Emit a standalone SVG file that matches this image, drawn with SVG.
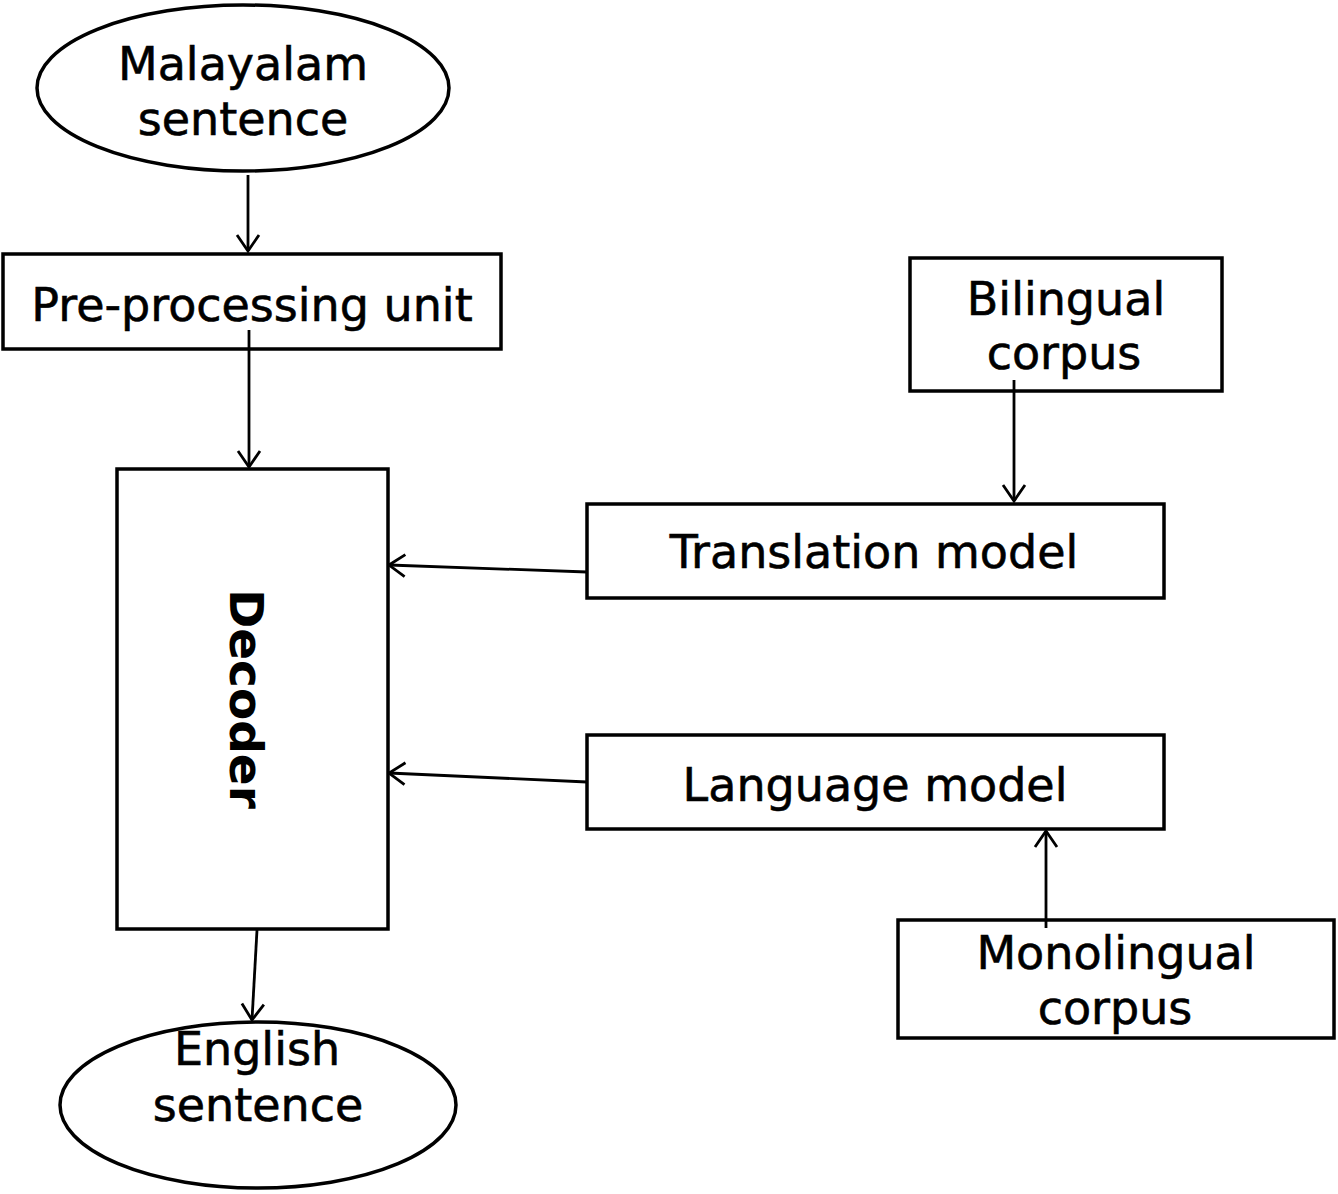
<svg xmlns="http://www.w3.org/2000/svg" width="1338" height="1194" viewBox="0 0 1338 1194">
<style>
.shape{fill:#fff;stroke:#000;stroke-width:3.5}
.t{font-family:"DejaVu Sans","Liberation Sans",sans-serif;font-size:46px;fill:#000;stroke:#000;stroke-width:0.6;text-anchor:middle}
.tb{font-family:"DejaVu Sans","Liberation Sans",sans-serif;font-size:47px;font-weight:bold;fill:#000;text-anchor:middle}
.c{fill:none;stroke:#000;stroke-width:2.8;marker-end:url(#arr)}
</style>
<defs>
<marker id="arr" markerUnits="userSpaceOnUse" markerWidth="20" markerHeight="26" viewBox="0 0 20 26" refX="18" refY="13" orient="auto">
<path d="M2,2 L18,13 L2,24" fill="none" stroke="#000" stroke-width="2.8"/>
</marker>
</defs>
<rect width="1338" height="1194" fill="#fff"/>
<g id="malayalam">
<ellipse class="shape" cx="243" cy="88" rx="206" ry="83"/>
<text class="t" x="243" y="80">Malayalam</text>
<text class="t" x="243" y="135">sentence</text>
</g>
<g id="preprocessing">
<rect class="shape" x="3" y="254" width="498" height="95"/>
<text class="t" x="252" y="321">Pre-processing unit</text>
</g>
<g id="decoder">
<rect class="shape" x="117" y="469" width="271" height="460"/>
<text class="tb" transform="translate(230,699) rotate(90)" x="0" y="0">Decoder</text>
</g>
<g id="english">
<ellipse class="shape" cx="258" cy="1105" rx="198" ry="83"/>
<text class="t" x="257" y="1065">English</text>
<text class="t" x="258" y="1121">sentence</text>
</g>
<g id="bilingual">
<rect class="shape" x="910" y="258" width="312" height="133"/>
<text class="t" x="1066" y="315">Bilingual</text>
<text class="t" x="1064" y="369">corpus</text>
</g>
<g id="translation">
<rect class="shape" x="587" y="504" width="577" height="94"/>
<text class="t" x="874" y="568">Translation model</text>
</g>
<g id="language">
<rect class="shape" x="587" y="735" width="577" height="94"/>
<text class="t" x="875" y="801">Language model</text>
</g>
<g id="monolingual">
<rect class="shape" x="898" y="920" width="436" height="118"/>
<text class="t" x="1116" y="969">Monolingual</text>
<text class="t" x="1115" y="1024">corpus</text>
</g>
<g id="connectors">
<line class="c" x1="248" y1="175" x2="248" y2="251"/>
<line class="c" x1="249" y1="330" x2="249" y2="467"/>
<line class="c" x1="257" y1="930" x2="252" y2="1020"/>
<line class="c" x1="1014" y1="380" x2="1014" y2="501"/>
<line class="c" x1="587" y1="572" x2="389" y2="565"/>
<line class="c" x1="587" y1="782" x2="389" y2="773"/>
<line class="c" x1="1046" y1="928" x2="1046" y2="831"/>
</g>
</svg>
